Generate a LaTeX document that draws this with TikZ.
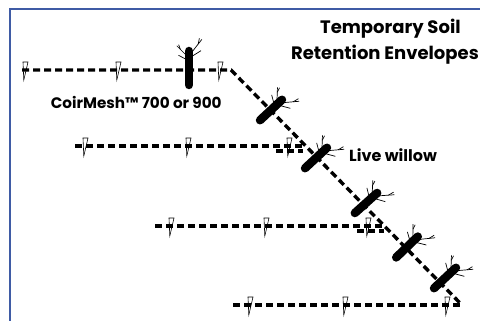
\documentclass[tikz,border=0pt]{standalone}
\usepackage{fontspec}
\usetikzlibrary{calc}
\setmainfont{Poppins}
\begin{document}
\begin{tikzpicture}[x=1pt,y=-1pt,
  frame/.style={line width=2.3pt, draw={rgb,255:red,63;green,91;blue,165}},
  mesh/.style={line width=3.4pt, dash pattern=on 7pt off 4pt, black},
  stake/.style={draw=black, line width=0.6pt, fill=white, line join=miter},
  willowbar/.style={line width=8.5pt, line cap=round, black},
  twig/.style={line width=0.7pt, black},
  lbl/.style={font=\bfseries, inner sep=0pt},
  pics/stakepic/.style={code={
    \draw[stake] (-2,-8) -- (3,-8) -- (-1.2,10) -- cycle;}},
  pics/willow/.style={code={
    \begin{scope}[y=1pt]
      \draw[willowbar] (-#1,0) -- (#1,0);
      % side shoots near the top of the cutting
      \draw[twig] (#1-4,3) -- ++(45:13);
      \draw[twig] ($(#1-4,3)+(45:8)$) -- ++(20:5);
      \draw[twig] (#1-8,3.5) -- ++(62:8);
      \draw[twig] (#1-1,-3) -- ++(-38:16);
      \draw[twig] ($(#1-1,-3)+(-38:10)$) -- ++(-12:6);
      \draw[twig] (#1-5,-3.5) -- ++(-58:10);
    \end{scope}}}
]
\useasboundingbox (0,0) rectangle (480,321);
\fill[white] (0,0) rectangle (480,321);

% frame
\coordinate (fb) at (10,321);
\coordinate (fc) at (10,8.8);
\coordinate (fr) at (480,8.8);
\draw[frame] (fb) -- (fc) -- (fr);

% stakes
\foreach \x in {25,118,220} \pic at (\x,70) {stakepic};
\foreach \x in {85,188,289} \pic at (\x,146) {stakepic};
\foreach \x in {171,266,368} \pic at (\x,226) {stakepic};
\foreach \x in {250,345,447} \pic at (\x,305) {stakepic};

% mesh envelopes
\coordinate (a1) at (22,70);
\coordinate (c1) at (231,70);
\coordinate (e4) at (462,305);
\coordinate (a2) at (75,146);
\coordinate (c2) at (305,146);
\coordinate (l2s) at (276,151);
\coordinate (l2e) at (303,151);
\coordinate (a3) at (155,226);
\coordinate (c3) at (384,226);
\coordinate (l3s) at (357,231);
\coordinate (l3e) at (384,231);
\coordinate (a4) at (233,305);
\draw[mesh] (a1) -- (c1) -- (e4);
\draw[mesh] (a2) -- (c2);
\draw[mesh] (l2s) -- (l2e);
\draw[mesh] (a3) -- (c3);
\draw[mesh] (l3s) -- (l3e);
\draw[mesh] (a4) -- (e4);

% live willow cuttings
\pic[rotate=90] at (189,68) {willow=17};
\pic[rotate=43] at (271,110) {willow=15};
\pic[rotate=43] at (316,158) {willow=15};
\pic[rotate=42] at (366,203) {willow=15};
\pic[rotate=44] at (407,247) {willow=15};
\pic[rotate=43] at (445,278) {willow=15};

% labels
\node[lbl, font=\bfseries\fontsize{18}{21}\selectfont, anchor=base] (title1) at (390.4,33.3) {Temporary Soil};
\node[lbl, font=\bfseries\fontsize{18}{21}\selectfont, anchor=base east] (title2) at (479,59.3) {Retention Envelopes};
\node[lbl, font=\bfseries\fontsize{15.2}{18}\selectfont, anchor=base west] (meshlbl) at (50.7,108.3) {CoirMesh™ 700 or 900};
\node[lbl, font=\bfseries\fontsize{16}{19}\selectfont, anchor=base west] (livelbl) at (349,161) {Live willow};
\end{tikzpicture}
\end{document}
